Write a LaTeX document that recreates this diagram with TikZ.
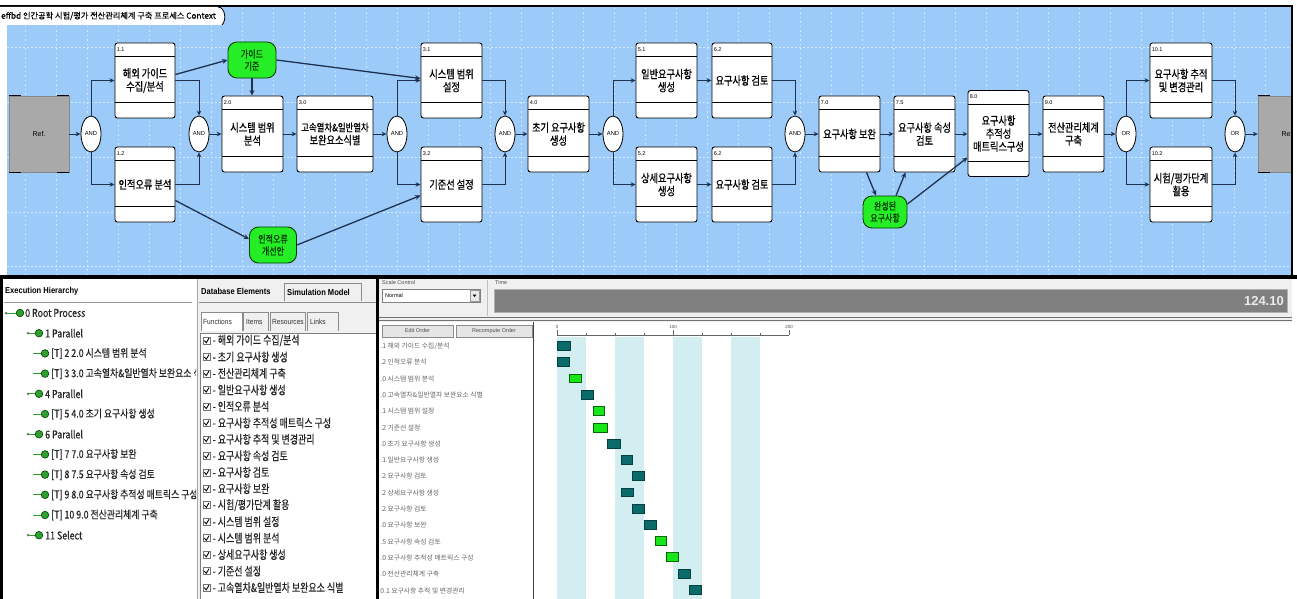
\documentclass[tikz,border=0pt]{standalone}
\usepackage{fontspec}
\setmainfont{Liberation Sans}
\newfontfamily\latn[FakeStretch=0.88]{Liberation Sans}
\newfontfamily\kr{Noto Sans CJK KR}
\newfontfamily\krb[FakeBold=0.5]{Noto Sans CJK KR}
\newfontfamily\krn[FakeStretch=0.8,FakeBold=0.6]{Noto Sans CJK KR}
\newfontfamily\krt[FakeStretch=0.82,FakeBold=0.35]{Noto Sans CJK KR}
\newfontfamily\krl[FakeStretch=0.76,FakeBold=0.35]{Noto Sans CJK KR}
\usetikzlibrary{arrows.meta,calc,shapes.geometric}

\definecolor{panelblue}{HTML}{9CCBFA}
\definecolor{gridc}{HTML}{D8EAFB}
\definecolor{flowc}{HTML}{1E3250}
\definecolor{itemg}{HTML}{26EE26}
\definecolor{refgray}{HTML}{A9A9A9}
\definecolor{barteal}{HTML}{0B6B6B}
\definecolor{bargreen}{HTML}{19E619}
\definecolor{band}{HTML}{D2EEF1}
\definecolor{treeg}{HTML}{2EA02E}
\definecolor{uigray}{HTML}{F0F0F0}
\definecolor{timebar}{HTML}{808080}

\tikzset{
 fn/.style={draw=black, fill=white, rounded corners=2.5pt, line width=0.9pt, align=center, inner sep=0pt, font=\krn\fontsize{11.5}{13}\selectfont},
 gate/.style={ellipse, draw=black, fill=white, line width=0.8pt, minimum width=20pt, minimum height=36pt, inner sep=0pt, font=\fontsize{5.8}{6}\selectfont},
 item/.style={draw=green!25!black, fill=itemg, line width=0.9pt, rounded corners=9pt, align=center, inner sep=0pt, font=\krn\fontsize{10}{12}\selectfont, text=green!20!black},
 flow/.style={draw=flowc, line width=1pt, -{Stealth[length=5pt,width=4.5pt]}},
 data/.style={draw=flowc, line width=1.3pt, -{Stealth[length=5.5pt,width=5pt]}},
 refbox/.style={fill=refgray, draw=refgray!80!black, line width=0.4pt, inner sep=0pt, font=\fontsize{7}{8}\selectfont},
 numlbl/.style={anchor=west, inner sep=0pt, font=\fontsize{5.5}{6}\selectfont},
 tree/.style={anchor=west, inner sep=0pt, font=\krt\fontsize{10.8}{11}\selectfont, text=black!85},
 lst/.style={anchor=west, inner sep=0pt, font=\krl\fontsize{11.8}{12}\selectfont, text=black!85},
 glbl/.style={anchor=west, inner sep=0pt, font=\kr\fontsize{6.8}{7}\selectfont, text=black!60},
 ui/.style={anchor=west, inner sep=0pt, font=\fontsize{5.5}{6}\selectfont, text=black!70},
 tabt/.style={anchor=west, inner sep=0pt, font=\latn\fontsize{7.5}{8}\selectfont, text=black!80},
 hdr/.style={anchor=west, inner sep=0pt, font=\latn\bfseries\fontsize{8.6}{9}\selectfont},
 btn/.style={draw=black!45, fill=black!10, inner sep=0pt, minimum height=12pt, font=\fontsize{5.5}{6}\selectfont, text=black!70},
 tbar/.style={draw=barteal!60!black, fill=barteal, line width=0.6pt},
 gbar/.style={draw=green!40!black, fill=bargreen, line width=0.6pt},
}

\newcommand\FB[7]{%
 \node[fn, minimum width=#4pt, minimum height=#5pt] (#1) at (#2,#3) {#7};
 \draw[line width=0.8pt] ($(#1.north west)+(0,14)$) -- ($(#1.north east)+(0,14)$);
 \draw[line width=0.8pt] ($(#1.south west)+(0,-16)$) -- ($(#1.south east)+(0,-16)$);
 \node[numlbl] at ($(#1.north west)+(2,7)$) {#6};
}
\newcommand\troot[2]{%
 \fill[black!50] (6,#1) circle (1.5pt);
 \draw[treeg, line width=0.8pt] (6,#1) -- (20,#1);
 \filldraw[fill=treeg, draw=green!25!black, line width=0.6pt] (20,#1) circle (3.8pt);
 \node[tree] at (25,#1) {#2};}
\newcommand\tpar[2]{%
 \fill[black!50] (28,#1) circle (1.5pt);
 \draw[treeg, line width=0.8pt] (28,#1) -- (39,#1);
 \filldraw[fill=treeg, draw=green!25!black, line width=0.6pt] (39,#1) circle (3.8pt);
 \node[tree] at (45,#1) {#2};}
\newcommand\ttask[2]{%
 \draw[treeg, line width=0.8pt] (33,#1) -- (45,#1);
 \filldraw[fill=treeg, draw=green!25!black, line width=0.6pt] (45,#1) circle (3.8pt);
 \node[tree] at (51,#1) {#2};}
\newcommand\dbitem[2]{%
 \draw[black!55, fill=white, line width=0.5pt] (203,#1-3.5) rectangle (210,#1+3.5);
 \draw[line width=0.9pt] (204.3,#1) -- (206.3,#1+2.2) -- (209,#1-2.4);
 \node[lst] at (212.5,#1) {- #2};}
\newcommand\glab[2]{\node[glbl] at (376.5,#1) {#2};}

\begin{document}
\begin{tikzpicture}[x=1pt,y=-1pt]
\useasboundingbox (0,0) rectangle (1297,599);
\fill[white] (0,0) rectangle (1297,599);

% ================= top panel =================
\fill[panelblue] (7,7) rectangle (1292,277);
\foreach \x in {25,56,...,1290} \draw[gridc, line width=0.6pt, dash pattern=on 1.5pt off 3pt] (\x,8) -- (\x,276);
\foreach \y in {47,102,157,212,266} \draw[gridc, line width=0.6pt, dash pattern=on 2pt off 2pt] (7,\y) -- (1291,\y);

\begin{scope}
\clip (7,7) rectangle (1291,276);
\node[refbox, minimum width=60pt, minimum height=76pt] (refL) at (39,134) {Ref.};
\node[refbox, minimum width=60pt, minimum height=76pt] (refR) at (1288,134) {Ref.};
\foreach \r in {refL,refR}{
 \draw[line width=1pt] (\r.north west) -- ++(12,0);
 \draw[line width=1pt] (\r.north east) -- ++(-12,0);
 \draw[line width=1pt] (\r.south west) -- ++(12,0);
 \draw[line width=1pt] (\r.south east) -- ++(-12,0);}
\end{scope}

% function boxes
\FB{b11}{145}{80.5}{60}{75}{1.1}{해외 가이드\\수집/분석}
\FB{b12}{145}{184.5}{60}{75}{1.2}{인적오류 분석}
\FB{b20}{252.5}{134}{61}{76}{2.0}{시스템 범위\\분석}
\FB{b30}{335}{134}{76}{76}{3.0}{\fontsize{10.5}{13}\selectfont 고속열차\&일반열차\\보완요소식별}
\FB{b31}{451.5}{80.5}{61}{75}{3.1}{시스템 범위\\설정}
\FB{b32}{451.5}{184.5}{61}{75}{3.2}{기준선 설정}
\FB{b40}{558.5}{134}{61}{76}{4.0}{초기 요구사항\\생성}
\FB{b51}{666.5}{80.5}{61}{75}{5.1}{일반요구사항\\생성}
\FB{b52}{666.5}{184.5}{61}{75}{5.2}{상세요구사항\\생성}
\FB{b62a}{742}{80.5}{60}{75}{6.2}{요구사항 검토}
\FB{b62b}{742}{184.5}{60}{75}{6.2}{요구사항 검토}
\FB{b70}{849.5}{134}{61}{76}{7.0}{요구사항 보완}
\FB{b75}{924.5}{134}{61}{76}{7.5}{요구사항 속성\\검토}
\FB{b80}{998.5}{133.5}{61}{86}{8.0}{\fontsize{11.5}{15}\selectfont 요구사항\\추적성\\매트릭스구성}
\FB{b90}{1073.5}{134}{61}{76}{9.0}{전산관리체계\\구축}
\FB{b101}{1181}{80.5}{62}{75}{10.1}{요구사항 추적\\및 변경관리}
\FB{b102}{1181}{184.5}{62}{75}{10.2}{시험/평가단계\\활용}

% gates
\node[gate] (a1) at (91,134) {AND};
\node[gate] (a2) at (199,134) {AND};
\node[gate] (a3) at (397,134) {AND};
\node[gate] (a4) at (505,134) {AND};
\node[gate] (a5) at (613,134) {AND};
\node[gate] (a6) at (795,134) {AND};
\node[gate] (o1) at (1126,134) {OR};
\node[gate] (o2) at (1235,134) {OR};

% items
\node[item, minimum width=48pt, minimum height=36pt] (g1) at (252,60) {가이드\\기준};
\node[item, minimum width=47pt, minimum height=36pt] (g2) at (273,245) {인적오류\\개선안};
\node[item, minimum width=44pt, minimum height=32pt] (g3) at (885,212) {완성된\\요구사항};

% control flow
\draw[flow] (refL.east) -- (a1.west);
\draw[flow] (a1.north) |- (b11.west);
\draw[flow] (a1.south) |- (b12.west);
\draw[flow] (b11.east) -| (a2.north);
\draw[flow] (b12.east) -| (a2.south);
\draw[flow] (a2.east) -- (b20.west);
\draw[flow] (b20.east) -- (b30.west);
\draw[flow] (b30.east) -- (a3.west);
\draw[flow] (a3.north) |- (b31.west);
\draw[flow] (a3.south) |- (b32.west);
\draw[flow] (b31.east) -| (a4.north);
\draw[flow] (b32.east) -| (a4.south);
\draw[flow] (a4.east) -- (b40.west);
\draw[flow] (b40.east) -- (a5.west);
\draw[flow] (a5.north) |- (b51.west);
\draw[flow] (a5.south) |- (b52.west);
\draw[flow] (b51.east) -- (b62a.west);
\draw[flow] (b52.east) -- (b62b.west);
\draw[flow] (b62a.east) -| (a6.north);
\draw[flow] (b62b.east) -| (a6.south);
\draw[flow] (a6.east) -- (b70.west);
\draw[flow] (b70.east) -- (b75.west);
\draw[flow] (b75.east) -- (b80.west |- b75.east);
\draw[flow] (b80.east |- b90.west) -- (b90.west);
\draw[flow] (b90.east) -- (o1.west);
\draw[flow] (o1.north) |- (b101.west);
\draw[flow] (o1.south) |- (b102.west);
\draw[flow] (b101.east) -| (o2.north);
\draw[flow] (b102.east) -| (o2.south);
\draw[flow] (o2.east) -- (refR.west);

% data flow
\draw[data] ($(b11.east)+(0,-6)$) -- (g1.west);
\draw[data] (g1.south) -- (g1.south |- b20.north);
\draw[data] (g1.east) -- ($(b31.west)+(0,-2)$);
\draw[data] ($(b12.east)+(0,16)$) -- ($(g2.west)+(0,-6)$);
\draw[data] (g2.east) -- ($(b32.west)+(0,11)$);
\draw[data] ($(b70.south)+(17,0)$) -- ($(g3.north)+(-9,0)$);
\draw[data] ($(g3.north)+(11,0)$) -- ($(b75.south)+(-19,0)$);
\draw[data] ($(g3.east)+(0,-8)$) -- ($(b80.west)+(0,24)$);

% frame and title tab
\draw[line width=2.5pt] (0,6) -- (1293,6);
\draw[line width=2.5pt] (1292,6) -- (1292,277);
\fill[white] (0,7) -- (218,7) .. controls (225,7) and (227,20) .. (222,25) -- (0,25) -- cycle;
\draw[line width=0.8pt] (218,7) .. controls (225,7) and (227,20) .. (222,25);
\node[anchor=west, inner sep=0pt, font=\krb\fontsize{8.2}{9}\selectfont] (title) at (1,16) {effbd 인간공학 시험/평가 전산관리체계 구축 프로세스 Context};

% ================= bottom =================
\fill[white] (0,278) rectangle (1297,599);
% execution hierarchy panel
\node[hdr] (eh) at (5,291) {Execution Hierarchy};
\draw[black!40, line width=1pt] (4,302) -- (192,302);
\begin{scope}
\clip (3,279) rectangle (196,599);
\troot{313}{0 Root Process}
\tpar{333.2}{1 Parallel}
\ttask{353.4}{[T] 2 2.0 시스템 범위 분석}
\ttask{373.6}{[T] 3 3.0 고속열차\&일반열차 보완요소 식별}
\tpar{393.8}{4 Parallel}
\ttask{414}{[T] 5 4.0 초기 요구사항 생성}
\tpar{434.2}{6 Parallel}
\ttask{454.4}{[T] 7 7.0 요구사항 보완}
\ttask{474.6}{[T] 8 7.5 요구사항 속성 검토}
\ttask{494.8}{[T] 9 8.0 요구사항 추적성 매트릭스 구성}
\ttask{515}{[T] 10 9.0 전산관리체계 구축}
\tpar{535.2}{11 Select}
\end{scope}
\draw[black!35] (197,279) -- (197,599);

% database elements panel
\fill[uigray] (198,279) rectangle (376,599);
\node[hdr] (dbe) at (201,291) {Database Elements};
\draw[black!45] (284,301) -- (284,283) -- (361,283) -- (361,301);
\node[hdr] (sim) at (287,292) {Simulation Model};
\draw[black!45] (199,302) -- (376,302);
\draw[black!45, fill=white] (201,331) -- (201,312) -- (242,312) -- (242,331);
\draw[black!45] (243,331) -- (243,312) -- (268,312) -- (268,331);
\draw[black!45] (270,331) -- (270,312) -- (305,312) -- (305,331);
\draw[black!45] (307,331) -- (307,312) -- (338,312) -- (338,331);
\node[tabt] (tf) at (203,321.5) {Functions};
\node[tabt] (ti) at (246,321.5) {Items};
\node[tabt] (tr) at (272,321.5) {Resources};
\node[tabt] (tl) at (310,321.5) {Links};
\draw[black!50, fill=white] (200,333) rectangle (376,600);
\dbitem{340.5}{해외 가이드 수집/분석}
\dbitem{357.0}{초기 요구사항 생성}
\dbitem{373.4}{전산관리체계 구축}
\dbitem{389.9}{일반요구사항 생성}
\dbitem{406.4}{인적오류 분석}
\dbitem{422.9}{요구사항 추적성 매트릭스 구성}
\dbitem{439.3}{요구사항 추적 및 변경관리}
\dbitem{455.8}{요구사항 속성 검토}
\dbitem{472.3}{요구사항 검토}
\dbitem{488.7}{요구사항 보완}
\dbitem{505.2}{시험/평가단계 활용}
\dbitem{521.7}{시스템 범위 설정}
\dbitem{538.1}{시스템 범위 분석}
\dbitem{554.6}{상세요구사항 생성}
\dbitem{571.1}{기준선 설정}
\dbitem{587.6}{고속열차\&일반열차 보완요소 식별}

% right panel: controls
\fill[uigray] (379,279) rectangle (1292,322);
\node[ui] (sc) at (382,282.5) {Scale Control};
\draw[black!50, fill=white] (382,289) rectangle (480,302);
\node[ui, text=black] (nm) at (385,295.5) {Normal};
\draw[black!40, fill=black!8] (470,290) rectangle (479,301);
\fill[black] (472.5,294.5) -- (476.5,294.5) -- (474.5,297) -- cycle;
\draw[black!25] (487,280) -- (487,316);
\node[ui] (tm) at (495,282.5) {Time};
\fill[timebar] (494,289) rectangle (1287,312);
\draw[black!30] (494,289) rectangle (1287,312);
\node[anchor=east, inner sep=0pt, font=\bfseries\fontsize{13}{14}\selectfont, text=white!92!black] (tv) at (1284,301) {124.10};
\draw[black!55, line width=0.8pt] (379,317) -- (1292,317);
\draw[black!55, line width=0.8pt] (379,320.5) -- (1292,320.5);

% order buttons and labels
\node[btn, minimum width=71pt] (eo) at (417.5,331) {Edit Order};
\node[btn, minimum width=76pt] (ro) at (494,331) {Recompute Order};
\begin{scope}
\clip (380,338) rectangle (532,599);
\glab{346}{1.1 해외 가이드 수집/분석}
\glab{362.3}{1.2 인적오류 분석}
\glab{378.6}{2.0 시스템 범위 분석}
\glab{394.9}{3.0 고속열차\&일반열차 보완요소 식별}
\glab{411.2}{3.1 시스템 범위 설정}
\glab{427.5}{3.2 기준선 설정}
\glab{443.8}{4.0 초기 요구사항 생성}
\glab{460.1}{5.1 일반요구사항 생성}
\glab{476.4}{6.2 요구사항 검토}
\glab{492.7}{5.2 상세요구사항 생성}
\glab{509}{6.2 요구사항 검토}
\glab{525.3}{7.0 요구사항 보완}
\glab{541.6}{7.5 요구사항 속성 검토}
\glab{557.9}{8.0 요구사항 추적성 매트릭스 구성}
\glab{574.2}{9.0 전산관리체계 구축}
\glab{590.5}{10.1 요구사항 추적 및 변경관리}
\end{scope}

% gantt chart
\foreach \a/\b in {557/586,615/644,673/702,731/760} \fill[band] (\a,337) rectangle (\b,599);
\draw[black!60, line width=0.6pt] (557,335) -- (789,335);
\foreach \x in {557,673,789} \draw[black!60, line width=0.6pt] (\x,335) -- (\x,329.5);
\foreach \x in {586,615,644,702,731,760} \draw[black!60, line width=0.5pt] (\x,335) -- (\x,333);
\node[inner sep=0pt, font=\fontsize{4.5}{5}\selectfont, text=black!70] (t0) at (557,326.5) {0};
\node[inner sep=0pt, font=\fontsize{4.5}{5}\selectfont, text=black!70] (t100) at (673,326.5) {100};
\node[inner sep=0pt, font=\fontsize{4.5}{5}\selectfont, text=black!70] (t200) at (789,326.5) {200};
\draw[tbar] (557,341) rectangle (570,350);
\draw[tbar] (557,357) rectangle (569,366);
\draw[gbar] (569,374) rectangle (581,382.5);
\draw[tbar] (581,390) rectangle (593,399);
\draw[gbar] (593,406) rectangle (604,415);
\draw[gbar] (593,423) rectangle (607,432);
\draw[tbar] (607,439) rectangle (620,448);
\draw[tbar] (621,455) rectangle (632,464);
\draw[tbar] (632,471) rectangle (644,480);
\draw[tbar] (621,488) rectangle (633,496.5);
\draw[tbar] (632,504) rectangle (644,513);
\draw[tbar] (644,520) rectangle (656,529);
\draw[gbar] (655,536) rectangle (666,545);
\draw[gbar] (666,552.5) rectangle (678,561.5);
\draw[tbar] (678,569) rectangle (690,578);
\draw[tbar] (689,585) rectangle (701,594);

% dividers
\draw[black!75, line width=1pt] (533,322) -- (533,599);
\draw[line width=4pt] (0,277) -- (1297,277);
\draw[line width=3pt] (1.5,277) -- (1.5,599);
\draw[line width=3pt] (377.5,277) -- (377.5,599);
\end{tikzpicture}
\end{document}
